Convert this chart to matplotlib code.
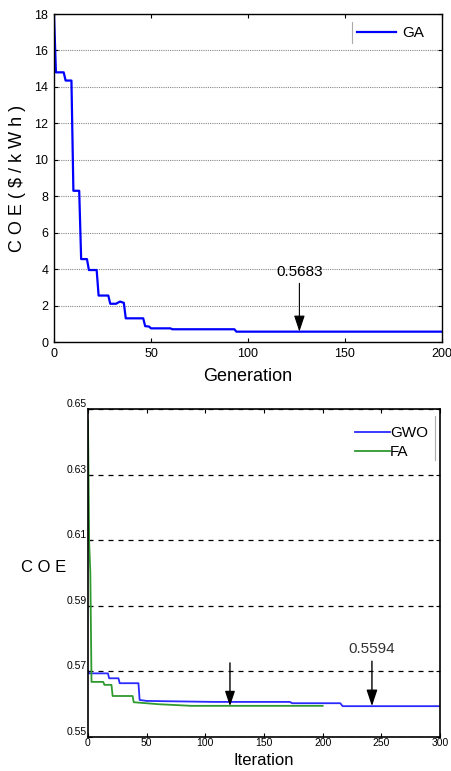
import matplotlib
matplotlib.use("Agg")
import matplotlib.pyplot as plt
from matplotlib.lines import Line2D

plt.rcParams['font.family'] = ['Liberation Sans', 'DejaVu Sans']

# GA convergence (top), vertices
ga_gen = [0, 1, 5, 6, 9, 10, 13, 14, 17, 18, 22, 23, 28, 29, 32, 34, 36, 37, 46, 47, 49, 50, 60, 61, 93, 94, 200]
ga_coe = [18.0, 14.8, 14.8, 14.35, 14.35, 8.3, 8.3, 4.55, 4.55, 3.95, 3.95, 2.55, 2.55, 2.1, 2.1, 2.22, 2.15, 1.3, 1.3, 0.87, 0.85, 0.75, 0.75, 0.70, 0.70, 0.5683, 0.5683]
ga_best = 0.5683
ga_best_gen = 126.5

# GWO / FA convergence (bottom)
gwo_it = [0, 1, 17, 18, 26, 27, 43, 44, 50, 107, 172, 174, 215, 217, 300]
gwo_coe = [0.5702, 0.5694, 0.5694, 0.5679, 0.5679, 0.5664, 0.5664, 0.5613, 0.5610, 0.5607, 0.5607, 0.5603, 0.5603, 0.5594, 0.5594]
fa_it = [0, 1, 2, 3, 13, 14, 20, 21, 38, 39, 60, 88, 200]
fa_coe = [0.6465, 0.6095, 0.6000, 0.5668, 0.5668, 0.5659, 0.5659, 0.5625, 0.5625, 0.5606, 0.5600, 0.5595, 0.5595]
gwo_best = 0.5594
arrow_its = [121, 242]

fig = plt.figure(figsize=(4.51, 7.71), dpi=100)

# ---- top panel
ax1 = fig.add_axes([0.1197, 0.5564, 0.8603, 0.4254])
ax1.plot(ga_gen, ga_coe, color='#0000ff', lw=1.6, label='GA')
ax1.set_xlim(0, 200)
ax1.set_ylim(0, 18)
ax1.set_xticks(range(0, 201, 50))
ax1.set_yticks(range(0, 19, 2))
ax1.grid(axis='y', linestyle=(0, (1, 1)), color='#888888', lw=0.8)
ax1.tick_params(direction='in', top=True, right=True, labelsize=9, length=3, pad=4)
ax1.set_xlabel('Generation', fontsize=13)
ax1.xaxis.set_label_coords(0.5, -0.104)
ax1.xaxis.label.set_va('center')
ax1.set_ylabel('C O E ( $ / k W h )', fontsize=13)
ax1.yaxis.set_label_coords(-0.093, 0.5)
ax1.yaxis.label.set_va('center')
for s in ax1.spines.values():
    s.set_linewidth(1.0)
ax1.annotate('0.5683', xy=(ga_best_gen, ga_best), xytext=(ga_best_gen, 3.45),
             ha='center', va='bottom', fontsize=11,
             arrowprops=dict(arrowstyle='-|>,head_length=0.9,head_width=0.3',
                             color='black', lw=0.8, shrinkA=1, shrinkB=0))
leg1 = ax1.legend(loc='upper right', bbox_to_anchor=(0.99, 1.005), frameon=False,
                  fontsize=11, handlelength=2.6, handletextpad=0.4)
ax1.add_line(Line2D([0.768, 0.768], [0.912, 0.976], transform=ax1.transAxes,
                    color='#aaaaaa', lw=0.8))

# ---- bottom panel
ax2 = fig.add_axes([0.1951, 0.0441, 0.7805, 0.4254])
ax2.plot(gwo_it, gwo_coe, color='#2a2aff', lw=1.3, label='GWO')
ax2.plot(fa_it, fa_coe, color='#2f9a2f', lw=1.3, label='FA')
ax2.set_xlim(0, 300)
ax2.set_ylim(0.55, 0.65)
ax2.set_xticks(range(0, 301, 50))
ax2.set_yticks([0.55, 0.57, 0.59, 0.61, 0.63, 0.65])
ax2.set_yticklabels(['0.55', '0.57', '0.59', '0.61', '0.63', '0.65'])
ax2.grid(axis='y', linestyle=(0, (4, 4)), color='black', lw=0.9)
ax2.tick_params(direction='in', top=True, right=True, labelsize=7.5, length=3)
ax2.tick_params(axis='x', pad=1)
ax2.tick_params(axis='y', pad=1)
for lab in ax2.get_yticklabels():
    lab.set_va('bottom')
ax2.set_xlabel('Iteration', fontsize=12)
ax2.xaxis.set_label_coords(0.5, -0.073)
ax2.xaxis.label.set_va('center')
ax2.set_ylabel('C O E', fontsize=12, rotation=0)
ax2.yaxis.set_label_coords(-0.125, 0.518)
ax2.yaxis.label.set_va('center')
ax2.yaxis.label.set_ha('center')
for s in ax2.spines.values():
    s.set_linewidth(1.2)
ax2.annotate('', xy=(arrow_its[0], gwo_best), xytext=(arrow_its[0], 0.5726),
             arrowprops=dict(arrowstyle='-|>,head_length=0.9,head_width=0.3',
                             color='black', lw=1.0, shrinkA=0, shrinkB=0))
ax2.annotate('0.5594', xy=(arrow_its[1], gwo_best), xytext=(arrow_its[1], 0.5748),
             ha='center', va='bottom', fontsize=11, color='#333333',
             arrowprops=dict(arrowstyle='-|>,head_length=0.9,head_width=0.3',
                             color='black', lw=1.0, shrinkA=2, shrinkB=0))
leg2 = ax2.legend(loc='upper right', bbox_to_anchor=(1.005, 0.99), frameon=False,
                  fontsize=11, handlelength=2.3, handletextpad=0.0, labelspacing=0.35)
ax2.add_line(Line2D([0.985, 0.985], [0.845, 0.98], transform=ax2.transAxes,
                    color='#aaaaaa', lw=0.8))

fig.savefig('out.png', dpi=100)
